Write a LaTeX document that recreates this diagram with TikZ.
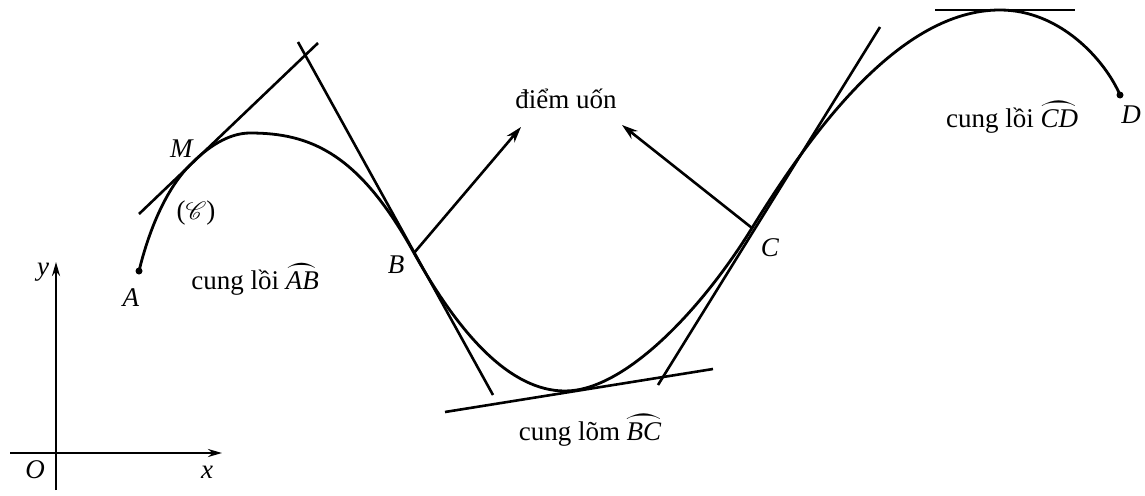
\documentclass[tikz,border=0pt]{standalone}
\usepackage{fontspec}
\setmainfont{Liberation Serif}
\usepackage{mathrsfs}
\usepackage{yhmath}
\usetikzlibrary{arrows.meta}
\tikzset{
  lbl/.style={inner sep=0pt,font=\fontsize{27}{32}\selectfont},
  curve/.style={line width=2.8pt},
  tang/.style={line width=2.6pt},
  ptr/.style={line width=2.6pt,-{Stealth[length=16pt,width=10pt]}},
  axis/.style={line width=2.2pt,-{Stealth[length=14pt,width=8pt]}}
}
\begin{document}
\begin{tikzpicture}[x=1pt,y=-1pt]
\useasboundingbox (0,0) rectangle (1145,495);
% key points
\coordinate (A) at (139,271);
\coordinate (M) at (192,163);
\coordinate (P1) at (250,133);
\coordinate (B) at (414,253);
\coordinate (Mn) at (565,391);
\coordinate (C) at (752,228);
\coordinate (P2) at (1000,10);
\coordinate (D) at (1120,95);
% curve
\draw[curve] (A) .. controls (150,226) and (168,186) .. (M)
  .. controls (207,148) and (228,133) .. (P1)
  .. controls (310,133) and (359,153) .. (B)
  .. controls (459,334) and (510,391) .. (Mn)
  .. controls (625,391) and (702,309) .. (C)
  .. controls (812,131) and (900,10) .. (P2)
  .. controls (1060,10) and (1105,60) .. (D);
\fill (A) circle (3.5pt);
\fill (D) circle (3.5pt);
% tangents
\draw[tang] (139,214) -- (318,43);
\draw[tang] (298,42) -- (493,395);
\draw[tang] (445,412) -- (713,369);
\draw[tang] (658,385) -- (880,27);
\draw[tang] (935,10) -- (1075,10);
% arrows
\coordinate (t1) at (521,127);
\coordinate (t2) at (622,125);
\draw[ptr] (B) -- (t1);
\draw[ptr] (C) -- (t2);
% labels
\node[lbl] (lM) at (182,149) {\textit{M}};
\node[lbl] (lCur) at (196,213) {($\mathscr{C}$)};
\node[lbl] (lA) at (131,298) {\textit{A}};
\node[lbl] (lAB) at (255,279) {cung lồi $\wideparen{\textit{AB}}$};
\node[lbl] (lB) at (396,265) {\textit{B}};
\node[lbl] (lC) at (770,248) {\textit{C}};
\node[lbl] (lD) at (1131,115) {\textit{D}};
\node[lbl] (lCD) at (1012,117) {cung lồi $\wideparen{\textit{CD}}$};
\node[lbl] (lBC) at (590,430) {cung lõm $\wideparen{\textit{BC}}$};
\node[lbl] (lU) at (566,99) {điểm uốn};
% axes
\coordinate (O) at (56,453);
\draw[axis] (10,453) -- (222,453);
\draw[axis] (56,490) -- (56,262);
\node[lbl] (ly) at (43,272) {\textit{y}};
\node[lbl] (lO) at (35,470) {\textit{O}};
\node[lbl] (lx) at (207,472) {\textit{x}};
\end{tikzpicture}
\end{document}
